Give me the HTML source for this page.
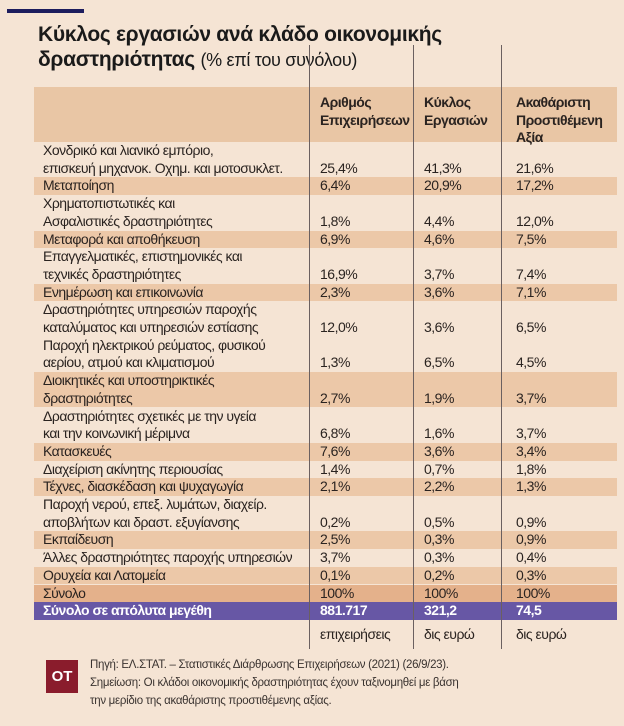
<!DOCTYPE html>
<html><head><meta charset="utf-8">
<style>
body{margin:0;width:624px;height:726px;background:#f5e4d4;overflow:hidden;position:relative;font-family:"Liberation Sans Narrow","Liberation Sans","DejaVu Sans",sans-serif;color:#2a2320}
.a{position:absolute}
.t{position:absolute;font-size:14px;line-height:17.7px;white-space:nowrap;letter-spacing:-0.5px}
</style></head><body>
<div class="a" style="left:7px;top:9px;width:77px;height:4px;background:#1d1d5e"></div>
<div class="a" style="left:38px;top:22px;font-family:'Liberation Sans',sans-serif;font-weight:bold;font-size:21px;line-height:25px;letter-spacing:-0.3px;color:#1a1a1a">Κύκλος εργασιών ανά κλάδο οικονομικής<br>δραστηριότητας <span style="font-weight:normal;font-size:18px">(% επί του συνόλου)</span></div>
<div class="a" style="left:34px;top:87px;width:583px;height:55px;background:#e9c6a5"></div>
<div id="rows"></div>
<div class="t" style="left:320px;top:94px;font-weight:bold">Αριθμός<br>Επιχειρήσεων</div>
<div class="t" style="left:424px;top:94px;font-weight:bold">Κύκλος<br>Εργασιών</div>
<div class="t" style="left:516px;top:94px;font-weight:bold">Ακαθάριστη<br>Προστιθέμενη<br>Αξία</div>
<div class="a" style="left:309px;top:45px;width:1px;height:604px;background:#6b6060"></div>
<div class="a" style="left:413px;top:45px;width:1px;height:604px;background:#6b6060"></div>
<div class="a" style="left:501px;top:45px;width:1px;height:604px;background:#6b6060"></div>
<div class="t" style="left:320px;top:626px">επιχειρήσεις</div>
<div class="t" style="left:424px;top:626px">δις ευρώ</div>
<div class="t" style="left:516px;top:626px">δις ευρώ</div>
<div class="a" style="left:46px;top:660px;width:32px;height:33px;background:#8a1c2c;color:#fff;font-family:'Liberation Sans',sans-serif;font-weight:bold;font-size:15px;line-height:33px;text-align:center">OT</div>
<div class="a" style="left:90px;top:656px;font-size:11.5px;line-height:18px;letter-spacing:-0.3px;color:#3a3330">Πηγή: ΕΛ.ΣΤΑΤ. – Στατιστικές Διάρθρωσης Επιχειρήσεων (2021) (26/9/23).<br>Σημείωση: Οι κλάδοι οικονομικής δραστηριότητας έχουν ταξινομηθεί με βάση<br>την μερίδιο της ακαθάριστης προστιθέμενης αξίας.</div>
<script>
const labels=[["Χονδρικό και λιανικό εμπόριο,","επισκευή μηχανοκ. Οχημ. και μοτοσυκλετ."],["Μεταποίηση"],["Χρηματοπιστωτικές και","Ασφαλιστικές δραστηριότητες"],["Μεταφορά και αποθήκευση"],["Επαγγελματικές, επιστημονικές και","τεχνικές δραστηριότητες"],["Ενημέρωση και επικοινωνία"],["Δραστηριότητες υπηρεσιών παροχής","καταλύματος και υπηρεσιών εστίασης"],["Παροχή ηλεκτρικού ρεύματος, φυσικού","αερίου, ατμού και κλιματισμού"],["Διοικητικές και υποστηρικτικές","δραστηριότητες"],["Δραστηριότητες σχετικές με την υγεία","και την κοινωνική μέριμνα"],["Κατασκευές"],["Διαχείριση ακίνητης περιουσίας"],["Τέχνες, διασκέδαση και ψυχαγωγία"],["Παροχή νερού, επεξ. λυμάτων, διαχείρ.","αποβλήτων και δραστ. εξυγίανσης"],["Εκπαίδευση"],["Άλλες δραστηριότητες παροχής υπηρεσιών"],["Ορυχεία και Λατομεία"],["Σύνολο"],["Σύνολο σε απόλυτα μεγέθη"]];
const firms=["25,4%","6,4%","1,8%","6,9%","16,9%","2,3%","12,0%","1,3%","2,7%","6,8%","7,6%","1,4%","2,1%","0,2%","2,5%","3,7%","0,1%","100%","881.717"];
const turnover=["41,3%","20,9%","4,4%","4,6%","3,7%","3,6%","3,6%","6,5%","1,9%","1,6%","3,6%","0,7%","2,2%","0,5%","0,3%","0,3%","0,2%","100%","321,2"];
const gva=["21,6%","17,2%","12,0%","7,5%","7,4%","7,1%","6,5%","4,5%","3,7%","3,7%","3,4%","1,8%","1,3%","0,9%","0,9%","0,4%","0,3%","100%","74,5"];
const striped=[0,1,0,1,0,1,0,0,1,0,1,0,1,0,1,0,1,2,3];
const LH=17.7, colX=[43,320,424,516];
const host=document.getElementById('rows');
let y=142;
labels.forEach((lab,i)=>{
  const h=lab.length*LH;
  const row=document.createElement('div');
  
  
  row.className='a';
  let bg='transparent',col='#2a2320',fw='normal';
  if(striped[i]===3){bg='#6757a5';col='#fff';fw='bold';}
  else if(striped[i]===2){bg='#e4b18b';}
  else if(striped[i]===1){bg='#ecc8a8';}
  row.style.cssText=`left:34px;top:${y}px;width:583px;height:${h}px;background:${bg}`;
  host.appendChild(row);
  const lt=document.createElement('div');
  
  
  lt.className='t';
  lt.style.cssText=`left:${colX[0]}px;top:${y}px;color:${col};font-weight:${fw}`;
  lt.innerHTML=lab.join('<br>');
  host.appendChild(lt);
  [firms[i],turnover[i],gva[i]].forEach((v,k)=>{
    const c=document.createElement('div');
    
    
    c.className='t';
    c.style.cssText=`left:${colX[k+1]}px;top:${y+h-LH}px;color:${col};font-weight:${fw}`;
    c.textContent=v;
    host.appendChild(c);
  });
  y+=h;
});
</script>
</body></html>
